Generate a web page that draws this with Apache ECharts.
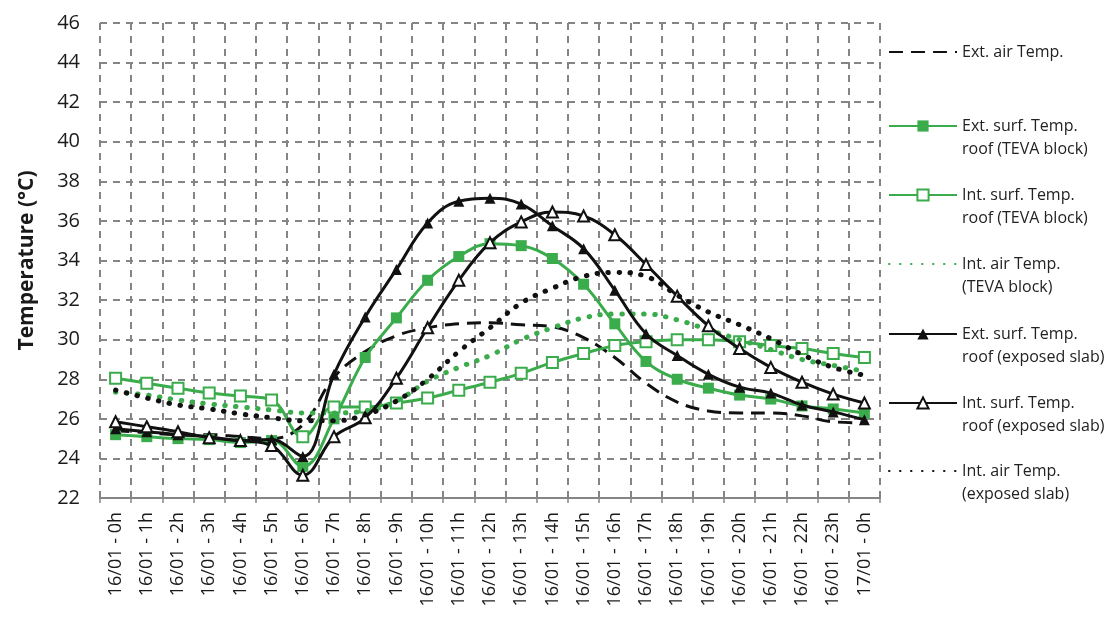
<!DOCTYPE html>
<html>
<head>
<meta charset="utf-8">
<script src="https://cdn.jsdelivr.net/npm/echarts@6/dist/echarts.min.js"></script>
<style>html,body{margin:0;padding:0;background:#fff;}#c{width:1104px;height:621px;}</style>
</head>
<body>
<div id="c"></div>
<script>
var categories = ['16/01 - 0h','16/01 - 1h','16/01 - 2h','16/01 - 3h','16/01 - 4h','16/01 - 5h','16/01 - 6h','16/01 - 7h','16/01 - 8h','16/01 - 9h','16/01 - 10h','16/01 - 11h','16/01 - 12h','16/01 - 13h','16/01 - 14h','16/01 - 15h','16/01 - 16h','16/01 - 17h','16/01 - 18h','16/01 - 19h','16/01 - 20h','16/01 - 21h','16/01 - 22h','16/01 - 23h','17/01 - 0h'];
var extAir      = [25.4, 25.3, 25.2, 25.2, 25.1, 25.0, 25.7, 28.1, 29.4, 30.2, 30.6, 30.8, 30.85, 30.75, 30.65, 30.1, 29.1, 27.8, 26.85, 26.4, 26.3, 26.3, 26.15, 25.85, 25.8];
var extSurfTeva = [25.2, 25.1, 25.0, 24.95, 24.8, 24.9, 23.6, 26.0, 29.1, 31.1, 33.0, 34.2, 34.85, 34.75, 34.1, 32.8, 30.8, 28.9, 28.0, 27.55, 27.2, 27.0, 26.65, 26.5, 26.3];
var intSurfTeva = [28.05, 27.8, 27.55, 27.3, 27.15, 26.95, 25.1, 26.6, 26.6, 26.8, 27.05, 27.45, 27.85, 28.3, 28.85, 29.3, 29.7, 29.9, 30.0, 30.0, 29.9, 29.7, 29.55, 29.3, 29.1];
var intAirTeva  = [27.35, 27.2, 26.95, 26.75, 26.6, 26.45, 26.3, 26.3, 26.4, 26.9, 27.9, 28.6, 29.2, 30.0, 30.6, 31.1, 31.3, 31.3, 31.0, 30.5, 30.0, 29.5, 29.0, 28.7, 28.4];
var extSurfSlab = [25.5, 25.35, 25.2, 25.1, 24.9, 24.95, 24.1, 28.25, 31.15, 33.55, 35.9, 37.0, 37.15, 36.85, 35.75, 34.6, 32.5, 30.3, 29.2, 28.25, 27.6, 27.3, 26.7, 26.35, 25.95];
var intSurfSlab = [25.85, 25.6, 25.35, 25.05, 24.9, 24.65, 23.15, 25.1, 26.05, 28.05, 30.6, 33.0, 34.9, 35.95, 36.45, 36.25, 35.3, 33.8, 32.2, 30.7, 29.55, 28.6, 27.85, 27.25, 26.8];
var intAirSlab  = [27.45, 27.05, 26.7, 26.5, 26.25, 26.05, 25.9, 25.9, 26.2, 26.9, 28.0, 29.4, 30.6, 31.85, 32.6, 33.2, 33.4, 33.2, 32.25, 31.4, 30.75, 30.05, 29.25, 28.6, 28.2];
var seriesNames = ['Ext. air Temp.','Ext. surf. Temp. roof (TEVA block)','Int. surf. Temp. roof (TEVA block)','Int. air Temp. (TEVA block)','Ext. surf. Temp. roof (exposed slab)','Int. surf. Temp. roof (exposed slab)','Int. air Temp. (exposed slab)'];
var legendLines = [['Ext. air Temp.'],['Ext. surf. Temp.','roof (TEVA block)'],['Int. surf. Temp.','roof (TEVA block)'],['Int. air Temp.','(TEVA block)'],['Ext. surf. Temp.','roof (exposed slab)'],['Int. surf. Temp.','roof (exposed slab)'],['Int. air Temp.','(exposed slab)']];
var yTicks = {min: 22, max: 46, interval: 2};

var GREEN = '#3aac4b', BLACK = '#111111', GRID = '#858585';
var FONT = 'Open Sans';
var SM = 0.4;

function lineSeries(name, data, color, opts) {
  var s = {
    name: name, type: 'line', data: data, smooth: SM,
    lineStyle: {color: color, width: 3, type: 'solid'},
    itemStyle: {color: color},
    symbol: 'circle', symbolSize: 10, emphasis: {disabled: true},
    z: opts.z
  };
  if (opts.symbol) { s.symbol = opts.symbol; s.symbolSize = opts.size || 10; }
  if (opts.hollow) { s.itemStyle = {color: '#fff', borderColor: color, borderWidth: 2}; }
  if (opts.type) { s.lineStyle.type = opts.type; }
  if (opts.width) { s.lineStyle.width = opts.width; }
  if (opts.cap) { s.lineStyle.cap = opts.cap; }
  s.showSymbol = !!opts.symbol;
  return s;
}

var series = [
  lineSeries(seriesNames[0], extAir, BLACK, {type: [14, 8], width: 3, z: 2}),
  lineSeries(seriesNames[1], extSurfTeva, GREEN, {symbol: 'rect', size: 11, z: 3}),
  lineSeries(seriesNames[2], intSurfTeva, GREEN, {symbol: 'rect', size: 11, hollow: true, z: 4}),
  lineSeries(seriesNames[3], intAirTeva, GREEN, {type: [0.5, 10.5], width: 5, cap: 'round', z: 5}),
  lineSeries(seriesNames[4], extSurfSlab, BLACK, {symbol: 'triangle', size: 11, z: 6}),
  lineSeries(seriesNames[5], intSurfSlab, BLACK, {symbol: 'triangle', size: 11, hollow: true, z: 7}),
  lineSeries(seriesNames[6], intAirSlab, BLACK, {type: [0.5, 10.5], width: 5, cap: 'round', z: 8})
];

var legendCenters = [52, 126, 195, 264, 334, 403, 471];
var legends = seriesNames.map(function (n, i) {
  var lines = legendLines[i];
  var h = lines.length === 1 ? 23 : 69;
  var hasSym = !!series[i].showSymbol;
  var lg = {
    data: [n], left: 888, top: legendCenters[i] - h / 2, padding: 0,
    orient: 'vertical', itemWidth: 68, itemHeight: 14, itemGap: 0,
    selectedMode: false,
    textStyle: {fontFamily: FONT, fontSize: 16, color: '#222', lineHeight: 23, padding: [0, 0, 0, 0]},
    formatter: function () { return lines.length === 1 ? lines[0] : '\n' + lines[0] + '\n' + lines[1]; }
  };
  if (!hasSym) { lg.itemStyle = {opacity: 0}; }
  return lg;
});

var chart = echarts.init(document.getElementById('c'), null, {renderer: 'canvas'});
chart.setOption({
  animation: false,
  backgroundColor: '#fff',
  grid: {left: 100, right: 224, top: 23, bottom: 123, containLabel: false},
  legend: legends,
  xAxis: {
    type: 'category', data: categories, boundaryGap: true,
    axisLine: {show: true, lineStyle: {color: GRID, width: 2}},
    axisTick: {show: true, length: 5, lineStyle: {color: GRID, width: 1.5}},
    axisLabel: {rotate: 90, interval: 0, margin: 14, fontFamily: FONT, fontSize: 18, color: '#1a1a1a'},
    splitLine: {show: true, lineStyle: {color: GRID, width: 2, type: [7, 6]}}
  },
  yAxis: {
    type: 'value', min: yTicks.min, max: yTicks.max, interval: yTicks.interval,
    name: 'Temperature (°C)', nameLocation: 'middle', nameGap: 62,
    nameTextStyle: {fontFamily: FONT, fontSize: 21, fontWeight: 'bold', color: '#1a1a1a'},
    axisLine: {show: false}, axisTick: {show: false},
    axisLabel: {margin: 20, fontFamily: FONT, fontSize: 20, color: '#1a1a1a'},
    splitLine: {show: true, lineStyle: {color: GRID, width: 2, type: [7, 6]}}
  },
  series: series
});
</script>
</body>
</html>
